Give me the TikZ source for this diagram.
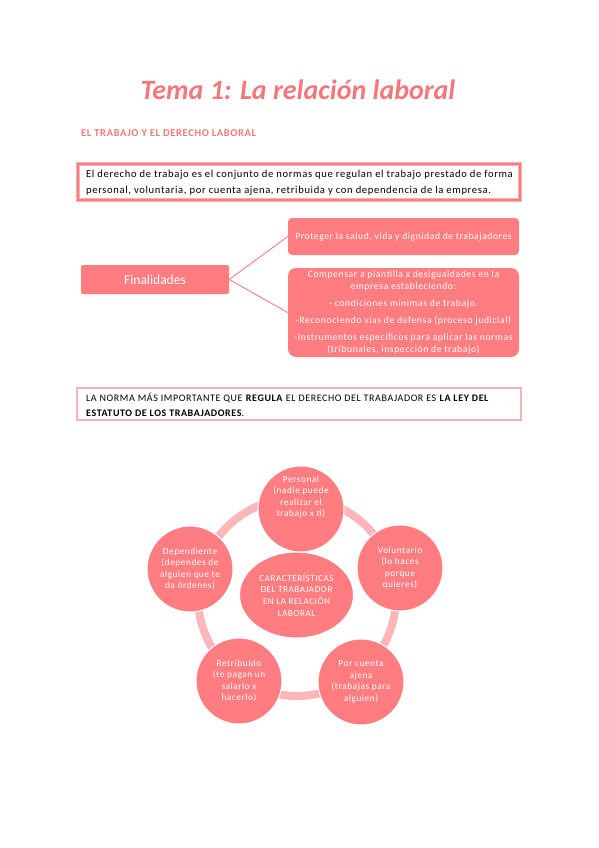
\documentclass[tikz,border=0pt]{standalone}
\usepackage{fontspec}
\setmainfont{Carlito}[LetterSpace=6]
\newfontfamily\titlefont{Carlito}
\usetikzlibrary{shapes.geometric}
\definecolor{salmon}{HTML}{FF7C80}
\definecolor{ringc}{HTML}{FFB6B8}
\definecolor{bord}{HTML}{F47F83}
\definecolor{lbord}{HTML}{F9B0B2}
\definecolor{titlec}{HTML}{F4777B}
\tikzset{
  titletext/.style={text=titlec, font=\titlefont\fontsize{28}{32}\selectfont\bfseries\itshape, inner sep=0},
  subtext/.style={text=titlec, font=\fontsize{10.5}{12}\selectfont\bfseries, inner sep=0, anchor=west},
  pinkbox/.style={fill=salmon, text=white, rounded corners=4pt, inner sep=2pt, align=center},
  circ/.style={circle, fill=salmon, draw=white, line width=1pt, minimum size=86pt, inner sep=0pt,
    text=white, align=center, font=\fontsize{9.3}{11.6}\selectfont},
  circtext/.style={inner sep=0pt, text=white, align=center, font=\fontsize{9.3}{11.6}\selectfont},
  link/.style={draw=salmon, line width=0.9pt}
}
\begin{document}
\begin{tikzpicture}[x=1pt,y=-1pt]
\useasboundingbox[fill=white] (0,0) rectangle (599,848);

\node[titletext] (title) at (298,90) {Tema 1: La relación laboral};
\node[subtext] (sub) at (81,133) {EL TRABAJO Y EL DERECHO LABORAL};

% definition box
\node[draw=lbord, line width=4pt, minimum width=442pt, minimum height=36pt, inner sep=0] (defbox) at (299,182) {};
\node[draw=bord, line width=1.6pt, minimum width=442pt, minimum height=36pt, inner sep=0] (defbox2) at (299,182) {};
\node[anchor=west, align=left, inner sep=0, font=\fontsize{10.6}{16}\selectfont] (deftext) at (86,182.5)
 {El derecho de trabajo es el conjunto de normas que regulan el trabajo prestado de forma\\
  personal, voluntaria, por cuenta ajena, retribuida y con dependencia de la empresa.};

% finalidades
\node[pinkbox, rounded corners=2pt, minimum width=148pt, minimum height=29pt, font=\titlefont\fontsize{13.5}{15}\selectfont] (fin) at (155,279.5) {Finalidades};
\node[pinkbox, minimum width=231pt, minimum height=37pt, font=\fontsize{9.6}{12}\selectfont] (p1) at (403.5,236.5)
 {Proteger la salud, vida y dignidad de trabajadores};
\node[pinkbox, rounded corners=8pt, minimum width=231pt, minimum height=89pt, font=\fontsize{9.7}{12.5}\selectfont] (p2) at (403.5,312.5)
 {Compensar a plantilla x desigualdades en la\\
  empresa estableciendo:\\[4pt]
  - condiciones mínimas de trabajo.\\[5pt]
  -Reconociendo vías de defensa (proceso judicial)\\[4pt]
  -Instrumentos específicos para aplicar las normas\\
  (tribunales, inspección de trabajo)};
\draw[link] (fin.east) -- (p1.west);
\draw[link] (fin.east) -- (p2.west);

% ley box
\node[draw=lbord, line width=1.3pt, minimum width=444pt, minimum height=32pt, inner sep=0] (leybox) at (299,404) {};
\node[anchor=west, align=left, inner sep=0, font=\fontsize{10}{15}\selectfont] (leytext) at (86,404.5)
 {LA NORMA MÁS IMPORTANTE QUE \textbf{REGULA} EL DERECHO DEL TRABAJADOR ES \textbf{LA LEY DEL}\\
  \textbf{ESTATUTO DE LOS TRABAJADORES}.};

% cycle
\coordinate (cc) at (297,597);
\draw[ringc, line width=8pt] (cc) circle (99);
\node[ellipse, fill=salmon, draw=white, line width=1pt, minimum width=114pt, minimum height=86pt, inner sep=0,
  text=white, align=center, font=\fontsize{9.1}{11.7}\selectfont] (center) at (296.5,595)
  {CARACTERÍSTICAS\\DEL TRABAJADOR\\EN LA RELACIÓN\\LABORAL};
\node[circ] (personal) at (301,509) {};
\node[circtext] (personaltxt) at (301,497) {Personal\\(nadie puede\\realizar el\\trabajo x ti)};
\node[circ] (volunt) at (400,568) {Voluntario\\(lo haces\\porque\\quieres)};
\node[circ] (ajena) at (361,682) {Por cuenta\\ajena\\(trabajas para\\alguien)};
\node[circ] (retrib) at (239,681) {Retribuido\\(te pagan un\\salario x\\hacerlo)};
\node[circ] (depend) at (190,569) {Dependiente\\(dependes de\\alguien que te\\da órdenes)};
\end{tikzpicture}
\end{document}
